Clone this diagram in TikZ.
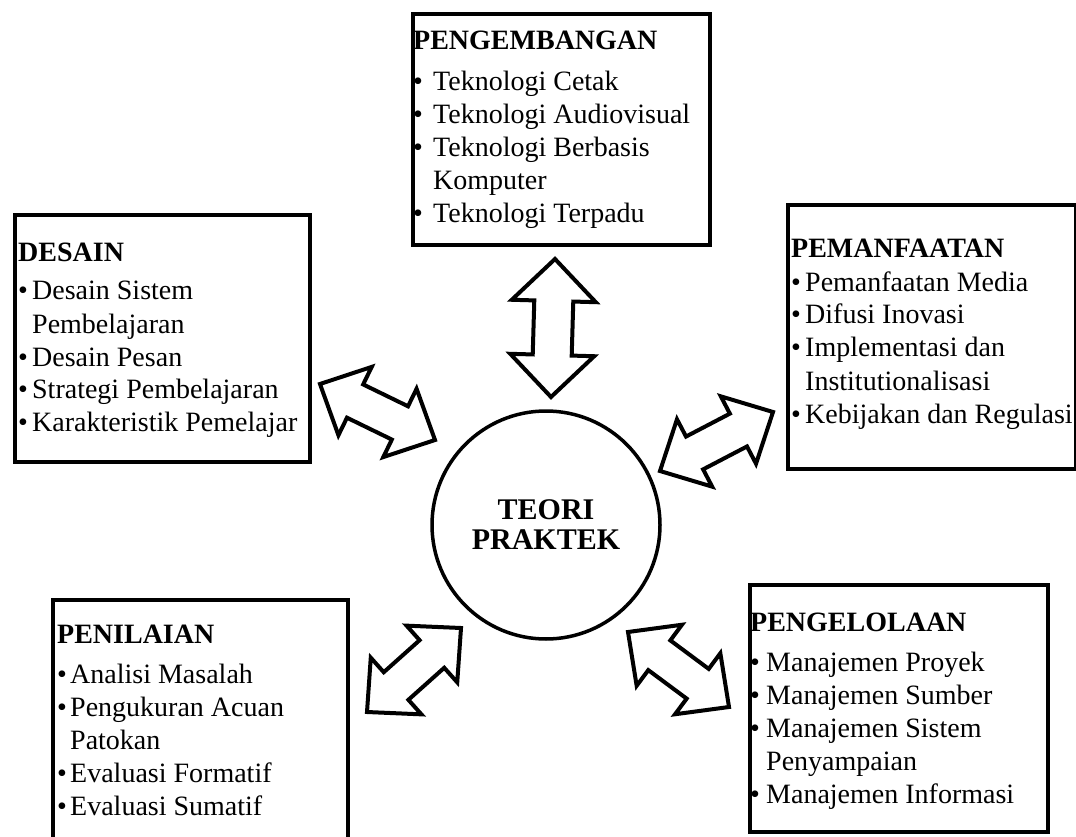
\documentclass[tikz,border=0pt]{standalone}
\usepackage{fontspec}
\setmainfont{Liberation Serif}
\usetikzlibrary{calc}
\newlength\bw
\newcommand\bitem[1]{\par\hangindent=\bw\hangafter=1\noindent\makebox[\bw][l]{\textbullet}#1}
\newcommand\fatarrow[5]{%
  \path ($(#1)!#3pt!(#2)$) coordinate (#1h) ($(#2)!#3pt!(#1)$) coordinate (#2h);
  \draw[fat] (#1) -- ($(#1h)!#4pt!90:(#2)$) -- ($(#1h)!#5pt!90:(#2)$)
    -- ($(#2h)!#5pt!-90:(#1)$) -- ($(#2h)!#4pt!-90:(#1)$) -- (#2)
    -- ($(#2h)!#4pt!90:(#1)$) -- ($(#2h)!#5pt!90:(#1)$)
    -- ($(#1h)!#5pt!-90:(#2)$) -- ($(#1h)!#4pt!-90:(#2)$) -- cycle;}
\tikzset{
  box/.style={draw, line width=4pt, rectangle, anchor=north west, inner sep=0pt},
  txt/.style={anchor=base west, inner sep=0pt, font=\fontsize{28}{33}\selectfont},
  circ/.style={draw, circle, line width=3.5pt, inner sep=0pt, minimum size=228pt,
    align=center, font=\fontsize{30}{30}\selectfont\bfseries},
  fat/.style={draw, line width=4pt, line join=miter, fill=white}
}
\begin{document}
\begin{tikzpicture}[x=1pt,y=-1pt]
\useasboundingbox (0,0) rectangle (1076,837);
\clip (0,0) rectangle (1076,837);
% boxes
\node[box, minimum width=297pt, minimum height=231pt] (peng) at (411,12) {};
\node[box, minimum width=295pt, minimum height=247pt] (desain) at (13,213) {};
\node[box, minimum width=288pt, minimum height=264pt] (pemanf) at (786,203) {};
\node[box, minimum width=295pt, minimum height=260pt] (penil) at (51,598) {};
\node[box, minimum width=298pt, minimum height=247pt] (pengel) at (748,583) {};
% texts
\node[txt] (peng-t) at (413,50) {\parbox[t]{294pt}{\raggedright\setlength\bw{20pt}%
  {\bfseries PENGEMBANGAN}\par\vspace{8pt}%
  \bitem{Teknologi Cetak}\bitem{Teknologi Audiovisual}%
  \bitem{Teknologi Berbasis\newline Komputer}\bitem{Teknologi Terpadu}}};
\node[txt] (desain-t) at (18,261) {\parbox[t]{290pt}{\raggedright\setlength\bw{14pt}%
  {\bfseries DESAIN}\par\vspace{6pt}%
  \bitem{Desain Sistem\newline Pembelajaran}\bitem{Desain Pesan}%
  \bitem{Strategi Pembelajaran}\bitem{Karakteristik Pemelajar}}};
\node[txt] (pemanf-t) at (791,258) {\parbox[t]{284pt}{\raggedright\setlength\bw{14pt}%
  {\bfseries PEMANFAATAN}\par\vspace{0pt}%
  \bitem{Pemanfaatan Media}\bitem{Difusi Inovasi}%
  \bitem{Implementasi dan\newline Institutionalisasi}\bitem{Kebijakan dan Regulasi}}};
\node[txt] (penil-t) at (57,643) {\parbox[t]{288pt}{\raggedright\setlength\bw{13pt}%
  {\bfseries PENILAIAN}\par\vspace{7pt}%
  \bitem{Analisi Masalah}\bitem{Pengukuran Acuan\newline Patokan}%
  \bitem{Evaluasi Formatif}\bitem{Evaluasi Sumatif}}};
\node[txt] (pengel-t) at (750,631) {\parbox[t]{294pt}{\raggedright\setlength\bw{16pt}%
  {\bfseries PENGELOLAAN}\par\vspace{7pt}%
  \bitem{Manajemen Proyek}\bitem{Manajemen Sumber}%
  \bitem{Manajemen Sistem\newline Penyampaian}\bitem{Manajemen Informasi}}};
% centre
\node[circ] (teori) at (546,525) {TEORI\\PRAKTEK};
% arrow ends
\coordinate (a1) at (555,259); \coordinate (b1) at (551,397);
\coordinate (a2) at (320,384); \coordinate (b2) at (435,440);
\coordinate (a3) at (660,471); \coordinate (b3) at (773,412);
\coordinate (a4) at (367,712); \coordinate (b4) at (461,628);
\coordinate (a5) at (628,632); \coordinate (b5) at (729,707);
\fatarrow{a1}{b1}{42}{42}{19.5}
\fatarrow{a2}{b2}{39}{38}{18.5}
\fatarrow{a3}{b3}{39}{38}{18.5}
\fatarrow{a4}{b4}{39}{38}{18.5}
\fatarrow{a5}{b5}{39}{38}{18.5}
\end{tikzpicture}
\end{document}
